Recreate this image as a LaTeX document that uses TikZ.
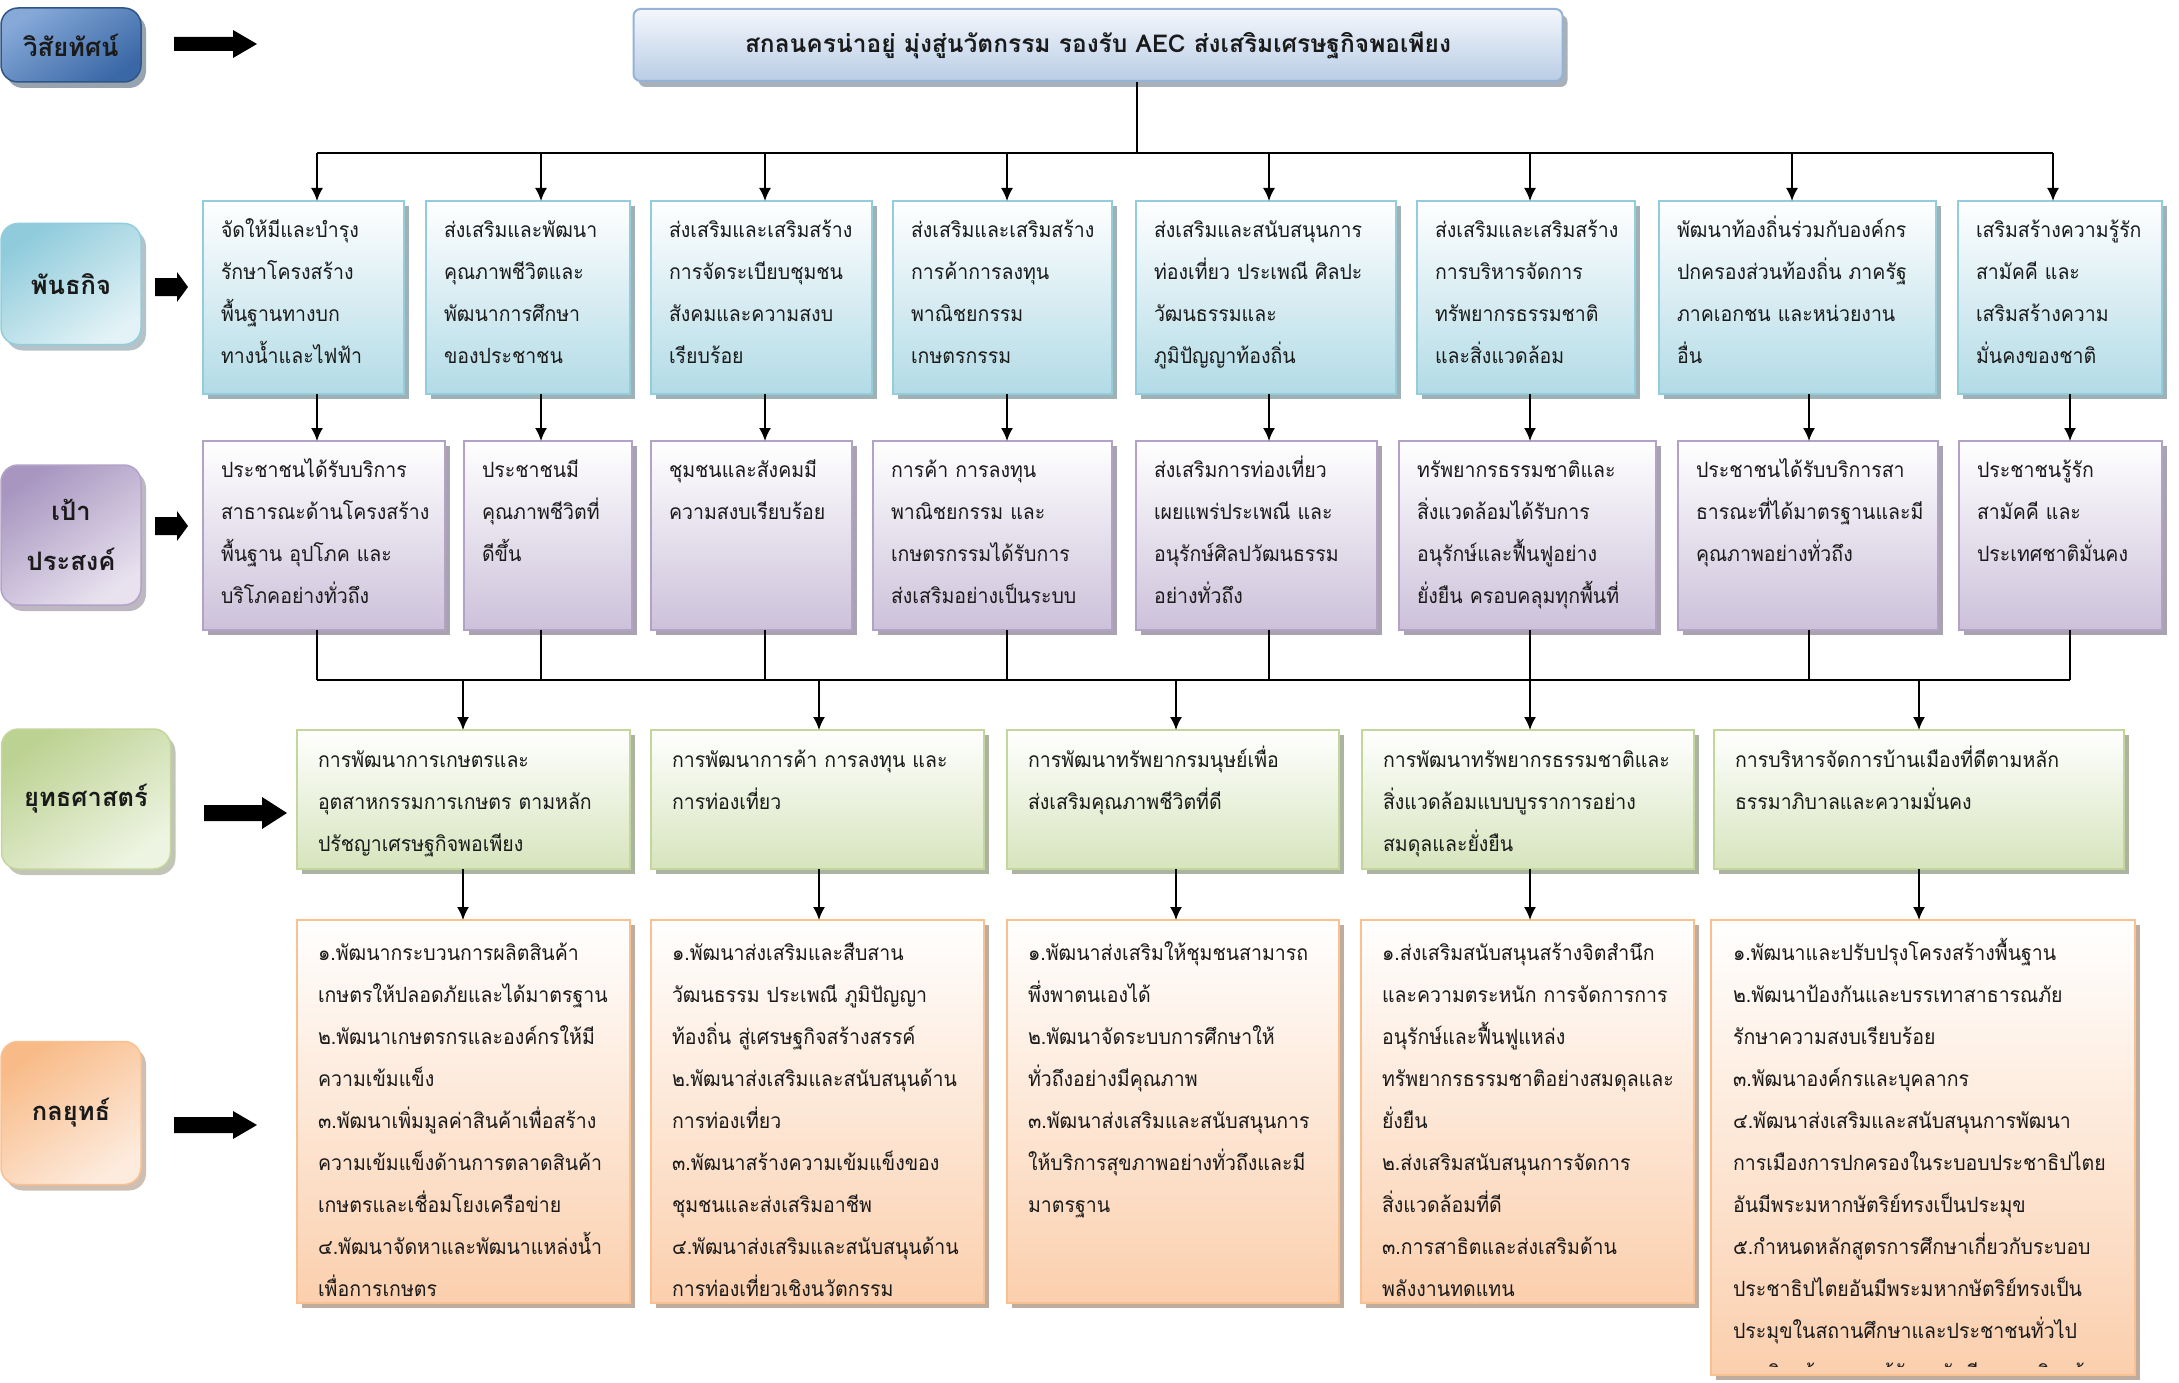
\documentclass[tikz,border=0pt]{standalone}
\usepackage{fontspec}
\newfontfamily\thfont[Script=Thai]{Loma}
\newfontfamily\thnarrow[Script=Thai,FakeStretch=0.93]{Loma}
\usetikzlibrary{arrows.meta,calc,fit,shadows}

\definecolor{txtc}{HTML}{1A1A1A}
% vision
\definecolor{visLt}{HTML}{86A9D8}
\definecolor{visLb}{HTML}{3A68A6}
\definecolor{visLB}{HTML}{2E5586}
\definecolor{visFt}{HTML}{F4F7FC}
\definecolor{visFb}{HTML}{B9CDE5}
\definecolor{visB}{HTML}{95B3D7}
% mission (aqua)
\definecolor{misLt}{HTML}{8FCBDB}
\definecolor{misLb}{HTML}{E2F2F6}
\definecolor{misF}{HTML}{B2DBE6}
\definecolor{misB}{HTML}{93CDDD}
% objective (purple)
\definecolor{objLt}{HTML}{A896C0}
\definecolor{objLb}{HTML}{E8E2EF}
\definecolor{objF}{HTML}{CCC1DA}
\definecolor{objB}{HTML}{B3A2C7}
% strategy (green)
\definecolor{strLt}{HTML}{BCD292}
\definecolor{strLb}{HTML}{EEF4E2}
\definecolor{strF}{HTML}{D7E4BD}
\definecolor{strB}{HTML}{C3D69B}
% tactics (orange)
\definecolor{tacLt}{HTML}{F8BB88}
\definecolor{tacLb}{HTML}{FDEBDD}
\definecolor{tacF}{HTML}{FBCFAD}
\definecolor{tacB}{HTML}{FAC090}

\tikzset{
  conn/.style={draw=black, line width=1.6pt},
  arr/.style={conn, -{Latex[length=13pt,width=12pt]}},
  cbox/.style n args={3}{inner sep=0pt, outer sep=0pt, draw=#1, line width=2.6pt,
     top color=white, bottom color=#2,
     drop shadow={shadow xshift=5pt, shadow yshift=-5pt, fill=#3, opacity=0.55}},
  misbox/.style={cbox={misB}{misF}{misB!55!black}},
  objbox/.style={cbox={objB}{objF}{objB!55!black}},
  strbox/.style={cbox={strB}{strF}{strB!55!black}},
  tacbox/.style={cbox={tacB}{tacF}{tacB!55!black}},
  txt/.style={anchor=north west, inner sep=0pt, outer sep=0pt, text width=480pt,
     align=left, text=txtc, font=\thnarrow\fontsize{21}{42}\selectfont},
  labbox/.style n args={3}{rounded corners=17pt, draw=#1, line width=1.5pt,
     top color=#2, bottom color=#3, shading angle=35,
     drop shadow={shadow xshift=5pt, shadow yshift=-6pt, fill=#1!60!black, opacity=0.45},
     font=\thfont\bfseries\fontsize{25.5}{50}\selectfont, text=txtc, align=center, inner sep=0pt},
  visbox/.style={rounded corners=7pt, draw=visB, line width=2pt, top color=visFt, bottom color=visFb,
     drop shadow={shadow xshift=5pt, shadow yshift=-6pt, fill=visB!55!black, opacity=0.5},
     font=\thfont\bfseries\fontsize{24.5}{28}\selectfont, text=txtc, inner sep=0pt}
}

\newcommand\mkbox[8]{%
  \node[#2, fit={(#3,#4) (#5,#6)}] (#1) {};
  \node[txt] (#1t) at ($(#1.north west)+(#7)$) {\rule{0pt}{30pt}#8};
}
\newcommand\blkarrow[6]{%
  \fill[black] (#1,#3-#4) -- (#2-#6,#3-#4) -- (#2-#6,#3-#5) -- (#2,#3)
     -- (#2-#6,#3+#5) -- (#2-#6,#3+#4) -- (#1,#3+#4) -- cycle;}

\begin{document}
\begin{tikzpicture}[x=1pt,y=-1pt]
\useasboundingbox (0,0) rectangle (2179,1383);
\fill[white] (0,0) rectangle (2179,1383);

% ---------- row labels ----------
\node[labbox={visLB}{visLt}{visLb}, minimum width=140, minimum height=74] (lvis) at (71,45) {วิสัยทัศน์};
\node[labbox={misB}{misLt}{misLb}, minimum width=140, minimum height=121] (lmis) at (71,284) {พันธกิจ};
\node[labbox={objB}{objLt}{objLb}, minimum width=140, minimum height=140] (lobj) at (71,535) {เป้า\\ประสงค์};
\node[labbox={strB}{strLt}{strLb}, minimum width=169, minimum height=140] (lstr) at (86,799) {ยุทธศาสตร์};
\node[labbox={tacB}{tacLt}{tacLb}, minimum width=140, minimum height=143] (ltac) at (71,1113) {กลยุทธ์};

% ---------- block arrows ----------
\blkarrow{174}{257}{44}{7}{14}{24}
\blkarrow{155}{188}{287}{9}{15}{11}
\blkarrow{155}{188}{526}{9}{15}{11}
\blkarrow{204}{287}{813}{8}{16}{25}
\blkarrow{174}{257}{1125}{8}{14}{24}

% ---------- vision ----------
\node[visbox, minimum width=929, minimum height=72] (vis) at (1098,45)
  {สกลนครน่าอยู่ มุ่งสู่นวัตกรรม รองรับ AEC ส่งเสริมเศรษฐกิจพอเพียง};

% ---------- mission ----------
\mkbox{m1}{misbox}{203}{201}{404}{394}{18,6}{จัดให้มีและบำรุง\\รักษาโครงสร้าง\\พื้นฐานทางบก\\ทางน้ำและไฟฟ้า}
\mkbox{m2}{misbox}{426}{201}{630}{394}{18,6}{ส่งเสริมและพัฒนา\\คุณภาพชีวิตและ\\พัฒนาการศึกษา\\ของประชาชน}
\mkbox{m3}{misbox}{651}{201}{872}{394}{18,6}{ส่งเสริมและเสริมสร้าง\\การจัดระเบียบชุมชน\\สังคมและความสงบ\\เรียบร้อย}
\mkbox{m4}{misbox}{893}{201}{1112}{394}{18,6}{ส่งเสริมและเสริมสร้าง\\การค้าการลงทุน\\พาณิชยกรรม\\เกษตรกรรม}
\mkbox{m5}{misbox}{1136}{201}{1396}{394}{18,6}{ส่งเสริมและสนับสนุนการ\\ท่องเที่ยว ประเพณี ศิลปะ\\วัฒนธรรมและ\\ภูมิปัญญาท้องถิ่น}
\mkbox{m6}{misbox}{1417}{201}{1635}{394}{18,6}{ส่งเสริมและเสริมสร้าง\\การบริหารจัดการ\\ทรัพยากรธรรมชาติ\\และสิ่งแวดล้อม}
\mkbox{m7}{misbox}{1659}{201}{1936}{394}{18,6}{พัฒนาท้องถิ่นร่วมกับองค์กร\\ปกครองส่วนท้องถิ่น ภาครัฐ\\ภาคเอกชน และหน่วยงาน\\อื่น}
\mkbox{m8}{misbox}{1958}{201}{2162}{394}{18,6}{เสริมสร้างความรู้รัก\\สามัคคี และ\\เสริมสร้างความ\\มั่นคงของชาติ}

% ---------- objectives ----------
\mkbox{o1}{objbox}{203}{441}{445}{630}{18,6}{ประชาชนได้รับบริการ\\สาธารณะด้านโครงสร้าง\\พื้นฐาน อุปโภค และ\\บริโภคอย่างทั่วถึง}
\mkbox{o2}{objbox}{464}{441}{632}{630}{18,6}{ประชาชนมี\\คุณภาพชีวิตที่\\ดีขึ้น}
\mkbox{o3}{objbox}{651}{441}{852}{630}{18,6}{ชุมชนและสังคมมี\\ความสงบเรียบร้อย}
\mkbox{o4}{objbox}{873}{441}{1112}{630}{18,6}{การค้า การลงทุน\\พาณิชยกรรม และ\\เกษตรกรรมได้รับการ\\ส่งเสริมอย่างเป็นระบบ}
\mkbox{o5}{objbox}{1136}{441}{1377}{630}{18,6}{ส่งเสริมการท่องเที่ยว\\เผยแพร่ประเพณี และ\\อนุรักษ์ศิลปวัฒนธรรม\\อย่างทั่วถึง}
\mkbox{o6}{objbox}{1399}{441}{1656}{630}{18,6}{ทรัพยากรธรรมชาติและ\\สิ่งแวดล้อมได้รับการ\\อนุรักษ์และฟื้นฟูอย่าง\\ยั่งยืน ครอบคลุมทุกพื้นที่}
\mkbox{o7}{objbox}{1678}{441}{1938}{630}{18,6}{ประชาชนได้รับบริการสา\\ธารณะที่ได้มาตรฐานและมี\\คุณภาพอย่างทั่วถึง}
\mkbox{o8}{objbox}{1959}{441}{2162}{630}{18,6}{ประชาชนรู้รัก\\สามัคคี และ\\ประเทศชาติมั่นคง}

% ---------- strategies ----------
\mkbox{s1}{strbox}{297}{730}{630}{869}{21,7}{การพัฒนาการเกษตรและ\\อุตสาหกรรมการเกษตร ตามหลัก\\ปรัชญาเศรษฐกิจพอเพียง}
\mkbox{s2}{strbox}{651}{730}{984}{869}{21,7}{การพัฒนาการค้า การลงทุน และ\\การท่องเที่ยว}
\mkbox{s3}{strbox}{1007}{730}{1339}{869}{21,7}{การพัฒนาทรัพยากรมนุษย์เพื่อ\\ส่งเสริมคุณภาพชีวิตที่ดี}
\mkbox{s4}{strbox}{1362}{730}{1694}{869}{21,7}{การพัฒนาทรัพยากรธรรมชาติและ\\สิ่งแวดล้อมแบบบูรราการอย่าง\\สมดุลและยั่งยืน}
\mkbox{s5}{strbox}{1714}{730}{2124}{869}{21,7}{การบริหารจัดการบ้านเมืองที่ดีตามหลัก\\ธรรมาภิบาลและความมั่นคง}

% ---------- tactics ----------
\mkbox{k1}{tacbox}{297}{920}{630}{1303}{21,10}{๑.พัฒนากระบวนการผลิตสินค้า\\เกษตรให้ปลอดภัยและได้มาตรฐาน\\๒.พัฒนาเกษตรกรและองค์กรให้มี\\ความเข้มแข็ง\\๓.พัฒนาเพิ่มมูลค่าสินค้าเพื่อสร้าง\\ความเข้มแข็งด้านการตลาดสินค้า\\เกษตรและเชื่อมโยงเครือข่าย\\๔.พัฒนาจัดหาและพัฒนาแหล่งน้ำ\\เพื่อการเกษตร}
\mkbox{k2}{tacbox}{651}{920}{984}{1303}{21,10}{๑.พัฒนาส่งเสริมและสืบสาน\\วัฒนธรรม ประเพณี ภูมิปัญญา\\ท้องถิ่น สู่เศรษฐกิจสร้างสรรค์\\๒.พัฒนาส่งเสริมและสนับสนุนด้าน\\การท่องเที่ยว\\๓.พัฒนาสร้างความเข้มแข็งของ\\ชุมชนและส่งเสริมอาชีพ\\๔.พัฒนาส่งเสริมและสนับสนุนด้าน\\การท่องเที่ยวเชิงนวัตกรรม}
\mkbox{k3}{tacbox}{1007}{920}{1339}{1303}{21,10}{๑.พัฒนาส่งเสริมให้ชุมชนสามารถ\\พึ่งพาตนเองได้\\๒.พัฒนาจัดระบบการศึกษาให้\\ทั่วถึงอย่างมีคุณภาพ\\๓.พัฒนาส่งเสริมและสนับสนุนการ\\ให้บริการสุขภาพอย่างทั่วถึงและมี\\มาตรฐาน}
\mkbox{k4}{tacbox}{1361}{920}{1694}{1303}{21,10}{๑.ส่งเสริมสนับสนุนสร้างจิตสำนึก\\และความตระหนัก การจัดการการ\\อนุรักษ์และฟื้นฟูแหล่ง\\ทรัพยากรธรรมชาติอย่างสมดุลและ\\ยั่งยืน\\๒.ส่งเสริมสนับสนุนการจัดการ\\สิ่งแวดล้อมที่ดี\\๓.การสาธิตและส่งเสริมด้าน\\พลังงานทดแทน}
\node[tacbox, fit={(1711,920) (2135,1375)}] (k5) {};
\begin{scope}
  \clip (1711,920) rectangle (2135,1366);
  \node[txt] (k5t) at ($(k5.north west)+(22,10)$) {\rule{0pt}{30pt}๑.พัฒนาและปรับปรุงโครงสร้างพื้นฐาน\\๒.พัฒนาป้องกันและบรรเทาสาธารณภัย\\รักษาความสงบเรียบร้อย\\๓.พัฒนาองค์กรและบุคลากร\\๔.พัฒนาส่งเสริมและสนับสนุนการพัฒนา\\การเมืองการปกครองในระบอบประชาธิปไตย\\อันมีพระมหากษัตริย์ทรงเป็นประมุข\\๕.กำหนดหลักสูตรการศึกษาเกี่ยวกับระบอบ\\ประชาธิปไตยอันมีพระมหากษัตริย์ทรงเป็น\\ประมุขในสถานศึกษาและประชาชนทั่วไป\\๖.เสริมสร้างความรู้รักสามัคคี และเสริมสร้าง};
\end{scope}

% ---------- connectors ----------
\coordinate (vj) at (1137,153);
\draw[conn] (vis.south -| vj) -- (vj);
\foreach \i/\x in {1/317,2/541,3/765,4/1007,5/1269,6/1530,7/1792,8/2053}
  \coordinate (t\i) at (\x,153);
\draw[conn] (t1) -- (t8);
\foreach \i in {1,...,8}
  \draw[arr] (t\i) -- (t\i |- m\i.north);

\foreach \i/\x in {1/317,2/541,3/765,4/1007,5/1269,6/1530,7/1809,8/2070}
  \coordinate (mo\i) at (\x,0);
\foreach \i in {1,...,8}
  \draw[arr] (mo\i |- m\i.south) -- (mo\i |- o\i.north);

\coordinate (hb) at (0,680);
\foreach \i in {1,...,8}
  \draw[conn] (mo\i |- o\i.south) -- (mo\i |- hb);
\draw[conn] (mo1 |- hb) -- (mo8 |- hb);

\foreach \i/\x in {1/463,2/819,3/1176,4/1530,5/1919}
  \coordinate (sx\i) at (\x,0);
\foreach \i in {1,...,5}{
  \draw[arr] (sx\i |- hb) -- (sx\i |- s\i.north);
  \draw[arr] (sx\i |- s\i.south) -- (sx\i |- k\i.north);
}
\end{tikzpicture}
\end{document}
